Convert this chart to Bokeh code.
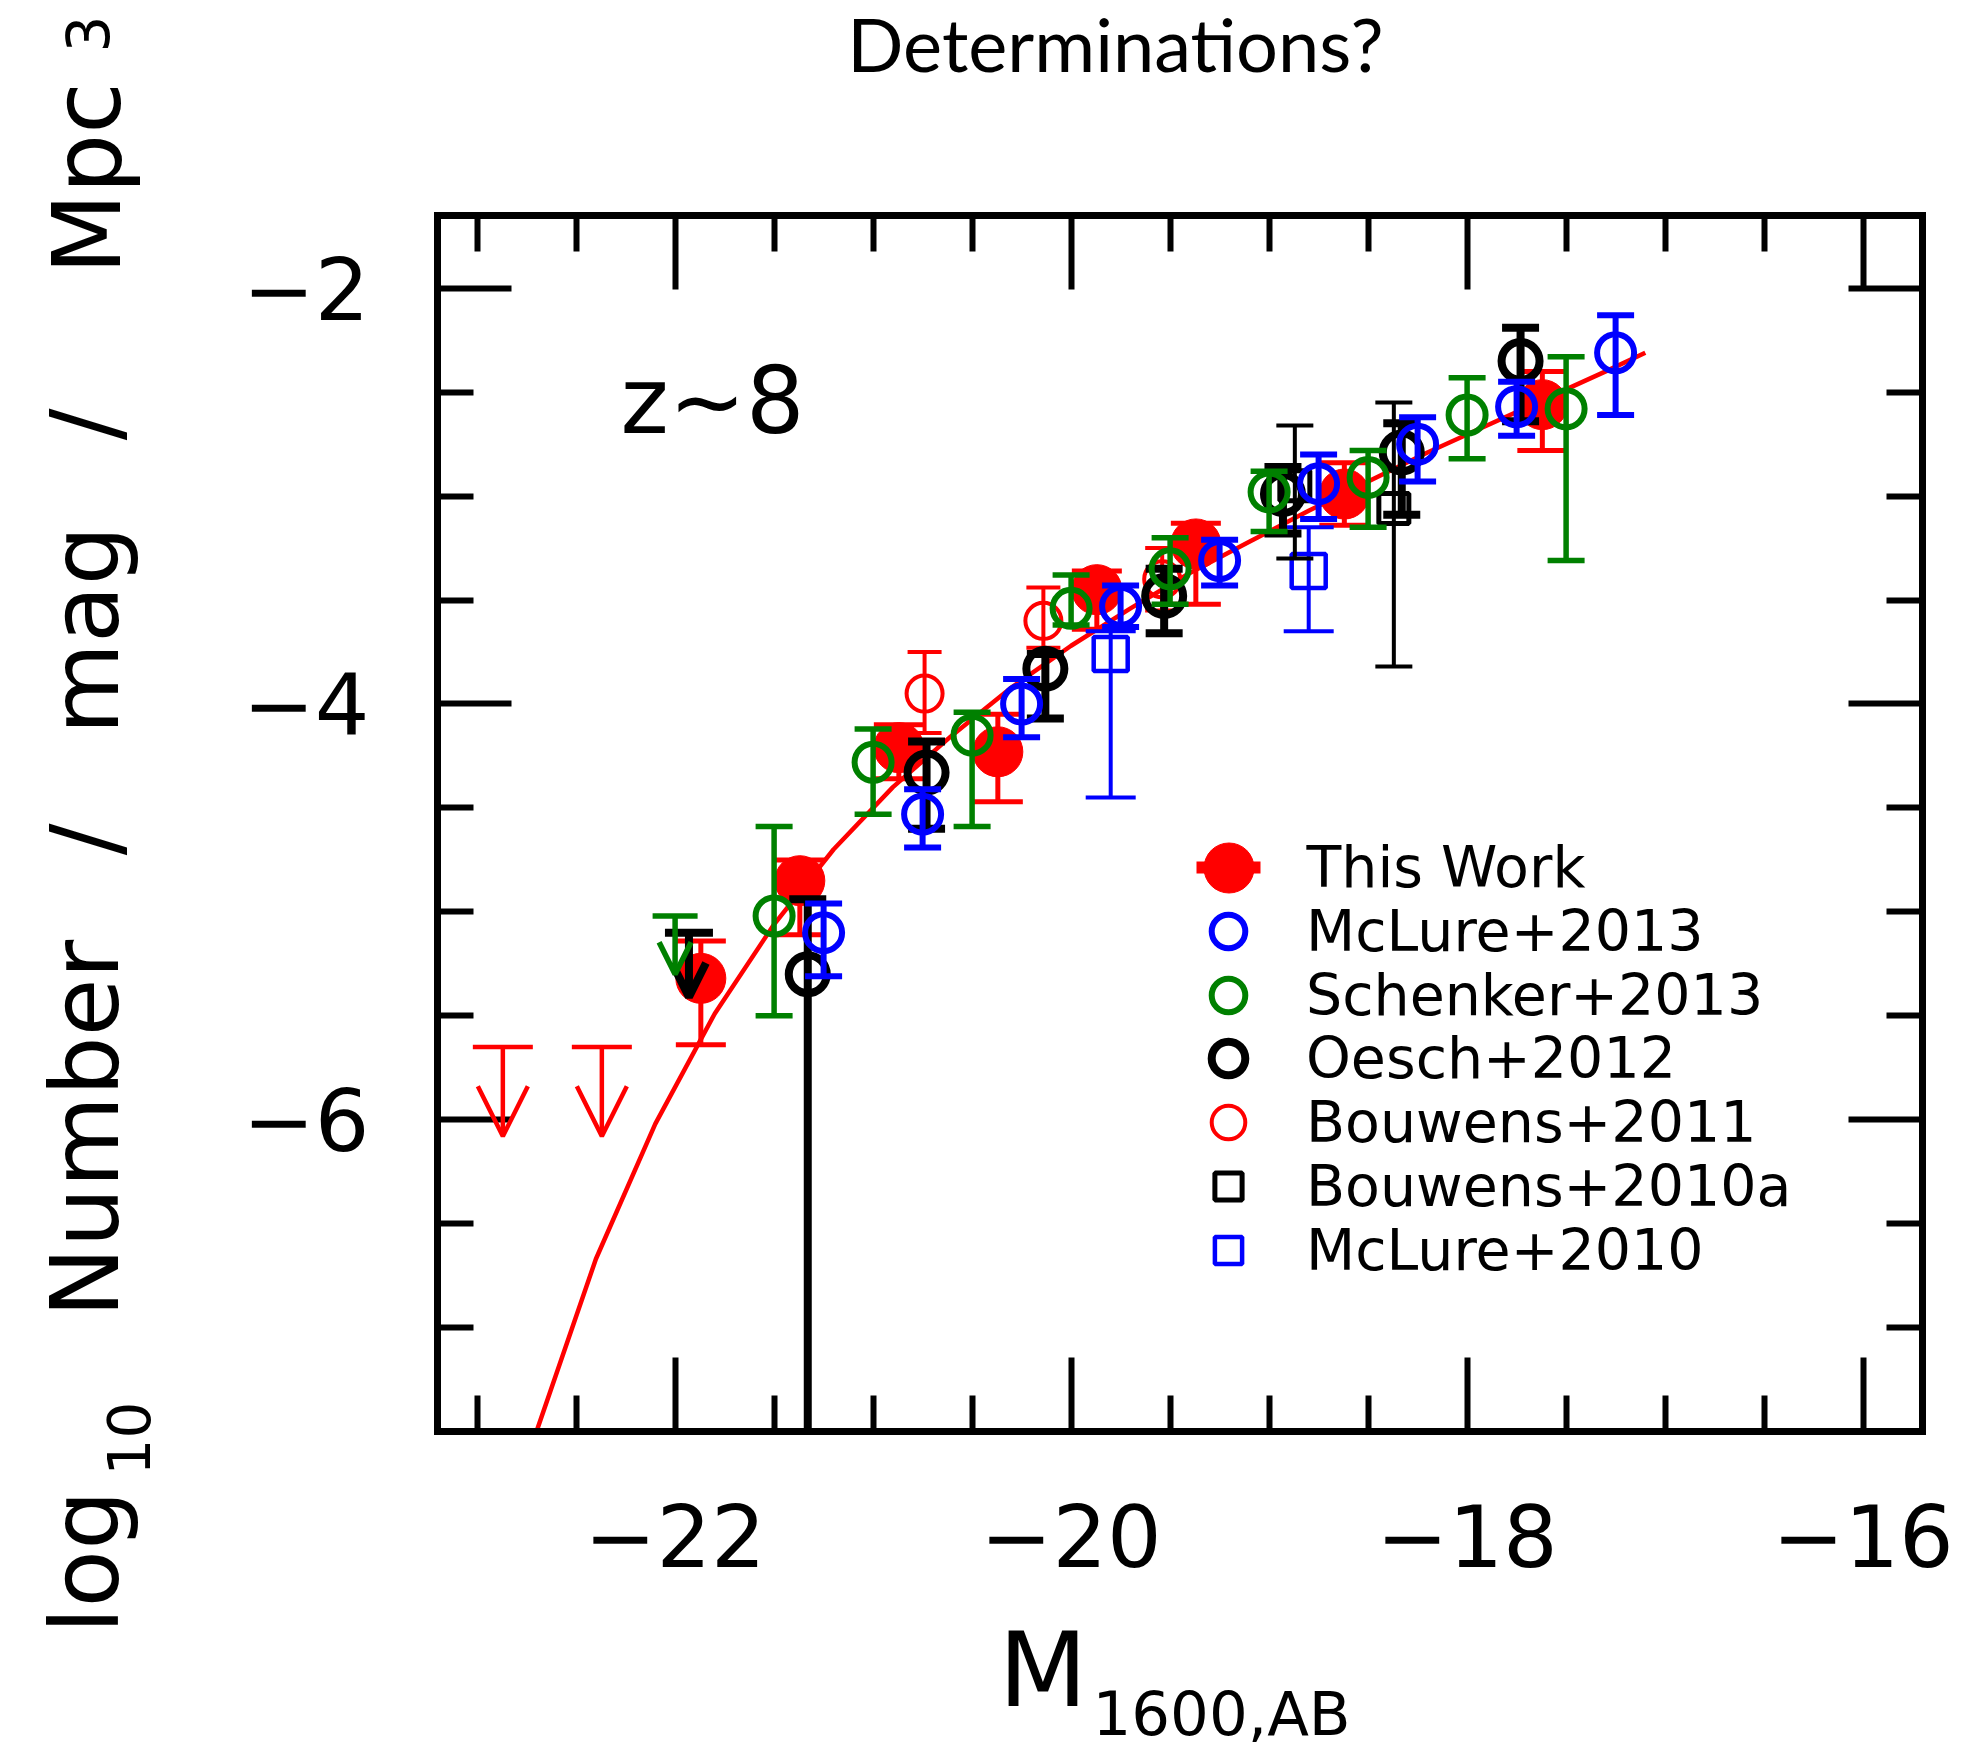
import math
from bokeh.plotting import figure
from bokeh.models import (Range1d, LinearAxis, FixedTicker, CustomJSTickFormatter, Label,
                          Legend, LegendItem, ColumnDataSource, Arrow, OpenHead)
from bokeh.embed import file_html
from bokeh.resources import INLINE

# ---------------- data ----------------
# This Work (filled red circles)
tw_M = [-21.87, -21.37, -20.87, -20.37, -19.87, -19.37, -18.62, -17.62]
tw_phi = [-5.32, -4.85, -4.21, -4.23, -3.45, -3.23, -2.99, -2.56]
tw_hi = [-5.14, -4.75, -4.10, -4.05, -3.36, -3.13, -2.84, -2.40]
tw_lo = [-5.64, -5.11, -4.36, -4.47, -3.64, -3.52, -3.14, -2.78]
tw_lim_M = [-22.87, -22.37]
tw_lim_phi = [-5.65, -5.65]

# McLure+2013 (blue open circles)
mc13_M = [-21.25, -20.75, -20.25, -19.75, -19.25, -18.75, -18.25, -17.75, -17.25]
mc13_phi = [-5.10, -4.53, -4.00, -3.53, -3.31, -2.94, -2.75, -2.57, -2.31]
mc13_hi = [-4.96, -4.41, -3.88, -3.43, -3.21, -2.80, -2.62, -2.45, -2.13]
mc13_lo = [-5.31, -4.69, -4.16, -3.63, -3.43, -3.11, -2.93, -2.71, -2.61]

# Schenker+2013 (green open circles)
sc13_M = [-21.5, -21.0, -20.5, -20.0, -19.5, -19.0, -18.5, -18.0, -17.5]
sc13_phi = [-5.02, -4.28, -4.15, -3.54, -3.35, -2.98, -2.91, -2.61, -2.58]
sc13_hi = [-4.59, -4.12, -4.04, -3.38, -3.20, -2.88, -2.78, -2.43, -2.33]
sc13_lo = [-5.50, -4.53, -4.59, -3.62, -3.52, -3.17, -3.15, -2.82, -3.31]
sc13_lim_M = [-22.0]
sc13_lim_phi = [-5.02]

# Oesch+2012 (black open circles); None = lower error bar runs off the axis
oe12_M = [-21.33, -20.73, -20.13, -19.53, -18.93, -18.33, -17.73]
oe12_phi = [-5.30, -4.33, -3.83, -3.48, -2.99, -2.79, -2.35]
oe12_hi = [-4.94, -4.18, -3.76, -3.35, -2.86, -2.65, -2.19]
oe12_lo = [None, -4.60, -4.07, -3.66, -3.18, -3.09, -2.64]
oe12_lim_M = [-21.93]
oe12_lim_phi = [-5.10]

# Bouwens+2011 (red open circles)
bo11_M = [-20.74, -20.14, -19.54]
bo11_phi = [-3.95, -3.60, -3.40]
bo11_hi = [-3.75, -3.44, -3.25]
bo11_lo = [-4.14, -3.73, -3.55]

# Bouwens+2010a (black open squares)
bo10_M = [-18.87, -18.37]
bo10_phi = [-2.95, -3.06]
bo10_hi = [-2.66, -2.55]
bo10_lo = [-3.30, -3.82]

# McLure+2010 (blue open squares)
mc10_M = [-19.80, -18.80]
mc10_phi = [-3.76, -3.36]
mc10_hi = [-3.65, -3.15]
mc10_lo = [-4.45, -3.65]

# fitted luminosity function (red curve)
fit_M = [-22.7, -22.4, -22.1, -21.8, -21.5, -21.2, -20.9, -20.6, -20.3, -20.0,
         -19.7, -19.4, -19.1, -18.8, -18.5, -18.2, -17.9, -17.6, -17.3, -17.1]
fit_phi = [-7.50, -6.67, -6.02, -5.49, -5.06, -4.70, -4.40, -4.15, -3.92, -3.72,
           -3.54, -3.37, -3.22, -3.07, -2.93, -2.79, -2.66, -2.53, -2.40, -2.31]

x_major = [-22, -20, -18, -16]
x_minor = [-23, -22.5, -21.5, -21, -20.5, -19.5, -19, -18.5, -17.5, -17, -16.5]
y_major = [-2, -4, -6]
y_minor = [-2.5, -3, -3.5, -4.5, -5, -5.5, -6.5, -7]

# ---------------- layout ----------------
W, H = 1985, 1755
FL, FR, FT, FB = 437, 1922, 215, 1431          # box of the axes, in pixels
X0, X1 = -23.2, -15.7                            # axis limits
Y0, Y1 = -7.5, -1.65
KX = (X1 - X0) / (FR - FL)
KY = (Y1 - Y0) / (FB - FT)
XC0, XC1 = X0 - FL * KX, X1 + (W - FR) * KX      # data range spanning the whole canvas
YC0, YC1 = Y0 - (H - FB) * KY, Y1 + FT * KY


def dx(sx):
    return XC0 + sx * KX


def dy(sy):
    return YC0 + (H - sy) * KY


RED, BLUE, GREEN, BLACK = "#ff0000", "#0000ff", "#008000", "#000000"
FONT = "DejaVu Sans"

p = figure(width=W, height=H, x_range=Range1d(XC0, XC1), y_range=Range1d(YC0, YC1),
           output_backend="svg", toolbar_location=None, title=None, min_border=0)
p.outline_line_color = None
p.xgrid.visible = False
p.ygrid.visible = False
p.background_fill_color = "white"
p.border_fill_color = "white"

lab_fmt = CustomJSTickFormatter(code="return (tick < 0 ? '\u2212' : '') + Math.abs(tick).toFixed(0);")


def style_axis(ax, ticker, labels, loc, bounds, standoff=60):
    ax.ticker = ticker
    ax.fixed_location = loc
    ax.bounds = bounds
    ax.axis_line_width = 7
    ax.axis_line_color = BLACK
    ax.axis_line_cap = "square"
    ax.major_tick_in = 74
    ax.major_tick_out = 0
    ax.minor_tick_in = 36
    ax.minor_tick_out = 0
    ax.major_tick_line_width = 6
    ax.minor_tick_line_width = 6
    ax.major_tick_line_color = BLACK
    ax.minor_tick_line_color = BLACK
    ax.major_label_text_font = FONT
    ax.major_label_text_font_size = "86px"
    ax.major_label_text_color = BLACK
    ax.major_label_standoff = standoff
    if labels:
        ax.formatter = lab_fmt
    else:
        ax.formatter = CustomJSTickFormatter(code="return '';")


style_axis(p.xaxis[0], FixedTicker(ticks=x_major, minor_ticks=x_minor), True, Y0, (X0, X1), standoff=72)
style_axis(p.yaxis[0], FixedTicker(ticks=y_major, minor_ticks=y_minor), True, X0, (Y0, Y1), standoff=68)
top_ax = LinearAxis()
style_axis(top_ax, FixedTicker(ticks=x_major, minor_ticks=x_minor), False, Y1, (X0, X1))
p.add_layout(top_ax, "above")
right_ax = LinearAxis()
style_axis(right_ax, FixedTicker(ticks=y_major, minor_ticks=y_minor), False, X1, (Y0, Y1))
p.add_layout(right_ax, "right")

# ---------------- marks ----------------
p.line(fit_M, fit_phi, line_color=RED, line_width=4.5)


def errbars(xs, lo, hi, color, lw, cap):
    # a missing lower bound means the bar runs down to the bottom axis (no cap)
    lo_draw = [Y0 if v is None else v for v in lo]
    src = ColumnDataSource(dict(x=xs, lo=lo_draw, hi=hi))
    p.segment(x0="x", y0="lo", x1="x", y1="hi", source=src, line_color=color, line_width=lw)
    p.scatter(x="x", y="hi", source=src, marker="dash", size=cap, line_color=color, line_width=lw)
    cx = [x for x, v in zip(xs, lo) if v is not None]
    cy = [v for v in lo if v is not None]
    p.scatter(x=cx, y=cy, marker="dash", size=cap, line_color=color, line_width=lw)


def upper_limits(xs, ys, color, lw, cap, length, head):
    tips = [y - length for y in ys]
    src = ColumnDataSource(dict(x=xs, y=ys, tip=tips))
    p.add_layout(Arrow(end=OpenHead(size=head, line_color=color, line_width=lw),
                       source=src, x_start="x", y_start="y", x_end="x", y_end="tip",
                       line_color=color, line_width=lw))
    p.scatter(x="x", y="y", source=src, marker="dash", size=cap, line_color=color, line_width=lw)


# This Work
errbars(tw_M, tw_lo, tw_hi, RED, 5, 50)
upper_limits(tw_lim_M, tw_lim_phi, RED, 4.5, 60, 0.43, 50)
r_tw = p.scatter(tw_M, tw_phi, marker="circle", size=50, fill_color=RED, line_color=RED, line_width=1)
# hidden copy used only to draw the red bar of the legend sample
r_tw_bar = p.scatter(tw_M, tw_phi, marker="dash", size=64, line_color=RED, line_width=12, visible=False)

# Bouwens+2011
errbars(bo11_M, bo11_lo, bo11_hi, RED, 4, 34)
r_bo11 = p.scatter(bo11_M, bo11_phi, marker="circle", size=36, fill_color=None, line_color=RED, line_width=4)

# McLure+2010
errbars(mc10_M, mc10_lo, mc10_hi, BLUE, 4, 50)
r_mc10 = p.scatter(mc10_M, mc10_phi, marker="square", size=34, fill_color=None, line_color=BLUE, line_width=4.5)

# Bouwens+2010a
errbars(bo10_M, bo10_lo, bo10_hi, BLACK, 4, 37)
r_bo10 = p.scatter(bo10_M, bo10_phi, marker="square", size=30, fill_color=None, line_color=BLACK, line_width=5)

# Oesch+2012
errbars(oe12_M, oe12_lo, oe12_hi, BLACK, 8, 37)
upper_limits(oe12_lim_M, oe12_lim_phi, BLACK, 8, 48, 0.31, 34)
r_oe12 = p.scatter(oe12_M, oe12_phi, marker="circle", size=38, fill_color=None, line_color=BLACK, line_width=8)

# Schenker+2013
errbars(sc13_M, sc13_lo, sc13_hi, GREEN, 5.5, 37)
upper_limits(sc13_lim_M, sc13_lim_phi, GREEN, 5.5, 45, 0.28, 32)
r_sc13 = p.scatter(sc13_M, sc13_phi, marker="circle", size=37, fill_color=None, line_color=GREEN, line_width=6)

# McLure+2013
errbars(mc13_M, mc13_lo, mc13_hi, BLUE, 6, 37)
r_mc13 = p.scatter(mc13_M, mc13_phi, marker="circle", size=37, fill_color=None, line_color=BLUE, line_width=6)

# ---------------- legend (one Legend per row so each sample gets its own size) ----------------
LEG_X = 1228      # sample centre (px)
LEG_TX = 1306     # label start (px)
LEG_Y0 = 867      # first row centre (px)
LEG_DY = 63.8     # row pitch (px)


def legend_row(label, renderers, row, box):
    cy = LEG_Y0 + row * LEG_DY
    lg = Legend(items=[LegendItem(label=label, renderers=renderers)],
                location=(LEG_X - box / 2, H - (cy + box / 2)),
                glyph_width=box, glyph_height=box, spacing=0, padding=0, margin=0,
                label_standoff=max(0, int(round(LEG_TX - (LEG_X + box / 2)))),
                label_text_font=FONT, label_text_font_size="57px", label_text_color=BLACK,
                border_line_color=None, background_fill_alpha=0,
                inactive_fill_alpha=0)
    p.add_layout(lg)


legend_row("\u00a0", [r_tw_bar], 0, 160)     # red bar behind the "This Work" sample
legend_row("This Work", [r_tw], 0, 125)
legend_row("McLure+2013", [r_mc13], 1, 84)
legend_row("Schenker+2013", [r_sc13], 2, 84)
legend_row("Oesch+2012", [r_oe12], 3, 84)
legend_row("Bouwens+2011", [r_bo11], 4, 84)
legend_row("Bouwens+2010a", [r_bo10], 5, 68)
legend_row("McLure+2010", [r_mc10], 6, 68)

# ---------------- texts ----------------
# Labels are anchored on the middle of their text box; MID converts a wanted
# baseline position into that anchor (fraction of the font size).
MID = {FONT: 0.37, "Lato": 0.41}


def add_label(text, sx, sy, size_px, font=FONT, rotated=False, align="left"):
    off = MID[font] * size_px
    if rotated:
        x, y, ang = dx(sx - off), dy(sy), math.pi / 2
    else:
        x, y, ang = dx(sx), dy(sy - off), 0.0
    p.add_layout(Label(x=x, y=y, text=text, text_font=font, text_font_size=f"{size_px}px",
                       text_color=BLACK, angle=ang, angle_units="rad",
                       text_align=align, text_baseline="middle"))


add_label("Determinations?", 1115, 73, 74, font="Lato", align="center")
add_label("z~8", 620, 435, 92)

# x-axis label  M_{1600,AB}
add_label("M", 998, 1708, 103)
add_label("1600,AB", 1092, 1736, 61)

# y-axis label  log10 Number / mag / Mpc^3 (rotated, baseline x / start y)
add_label("log", 120, 1633, 94, rotated=True)
add_label("10", 149, 1475, 58, rotated=True)
add_label("Number", 120, 1317, 94, rotated=True)
add_label("/", 120, 839, 94, rotated=True, align="center")
add_label("mag", 120, 734, 94, rotated=True)
add_label("/", 120, 424, 94, rotated=True, align="center")
add_label("Mpc", 122, 274, 94, rotated=True)
add_label("3", 108, 52, 58, rotated=True)

with open("out.html", "w", encoding="utf-8") as f:
    f.write(file_html(p, INLINE))
